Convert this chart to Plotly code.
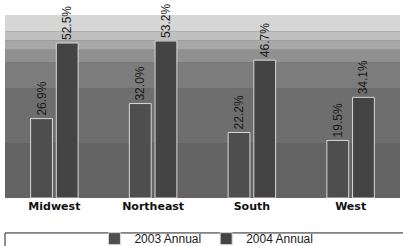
import plotly.graph_objects as go

regions = ["Midwest", "Northeast", "South", "West"]
annual_2003 = [26.9, 32.0, 22.2, 19.5]
annual_2004 = [52.5, 53.2, 46.7, 34.1]
series_names = ["2003 Annual", "2004 Annual"]

def fmt(v):
    return [f"{x:.1f}%" for x in v]

label_font = dict(family="Liberation Sans, Arial", size=12, color="#1a1a1a")

fig = go.Figure()
fig.add_trace(go.Bar(
    x=regions, y=annual_2003, name=series_names[0],
    marker=dict(color="#4e4e4e", line=dict(color="#d8d8d8", width=1)),
    text=fmt(annual_2003), textposition="outside", textangle=-90,
    textfont=label_font, cliponaxis=False, constraintext="none",
))
fig.add_trace(go.Bar(
    x=regions, y=annual_2004, name=series_names[1],
    marker=dict(color="#444444", line=dict(color="#d8d8d8", width=1)),
    text=fmt(annual_2004), textposition="outside", textangle=-90,
    textfont=label_font, cliponaxis=False, constraintext="none",
))

# gradient-like background bands in the plot area
bands = [(0.91, 1.00, "#d6d6d6"), (0.86, 0.91, "#c0c0c0"), (0.81, 0.86, "#a8a8a8"),
         (0.74, 0.81, "#909090"), (0.60, 0.74, "#7c7c7c"), (0.30, 0.60, "#6e6e6e"),
         (0.0, 0.30, "#646464")]
shapes = []
for y0, y1, c in bands:
    shapes.append(dict(type="rect", xref="paper", yref="paper", x0=0, x1=1, y0=y0, y1=y1,
                       fillcolor=c, line=dict(width=0), layer="below"))
# legend frame
shapes.append(dict(type="rect", xref="paper", yref="paper", x0=0, x1=1.05, y0=-0.30, y1=-0.191,
                   fillcolor="rgba(0,0,0,0)", line=dict(color="#222", width=1)))

fig.update_layout(
    width=403, height=246,
    margin=dict(l=5, r=3, t=15, b=48, autoexpand=False),
    paper_bgcolor="white", plot_bgcolor="#646464",
    barmode="group", bargap=0.48, bargroupgap=0.15,
    shapes=shapes,
    showlegend=True,
    legend=dict(orientation="h", x=0.51, xanchor="center", y=-0.222, yanchor="middle",
                font=dict(family="Liberation Sans, Arial", size=12, color="#1a1a1a"),
                bgcolor="rgba(0,0,0,0)", itemwidth=30, tracegroupgap=0),
    xaxis=dict(showgrid=False, zeroline=False, showline=False, ticks="", automargin=False,
               tickfont=dict(family="DejaVu Sans", size=11, color="#111", weight="bold")),
    yaxis=dict(range=[0, 62], visible=False, showgrid=False, automargin=False),
)
fig.write_html("out.html", config={"displayModeBar": False},
               post_script="document.body.style.margin='0';document.body.style.overflow='hidden';")
